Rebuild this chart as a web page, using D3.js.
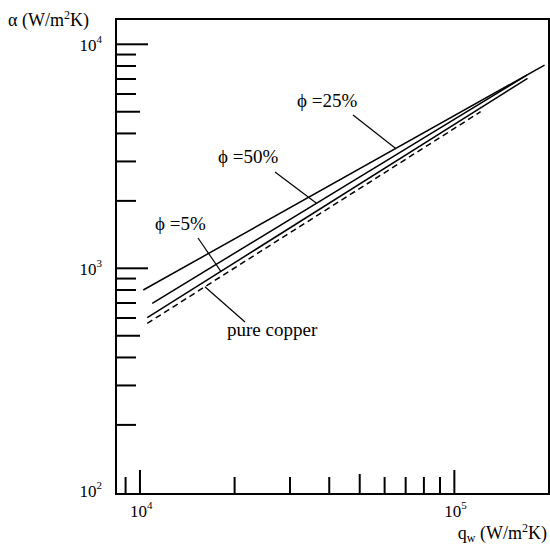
<!DOCTYPE html>
<html>
<head>
<meta charset="utf-8">
<script src="https://cdn.jsdelivr.net/npm/d3@7"></script>
<style>
  body { margin: 0; background: #fff; }
  text { font-family: "Liberation Serif", "Times New Roman", serif; fill: #000; }
</style>
</head>
<body>
<div id="chart"></div>
<script>
// heat flux q_w (W/m2K) at the two ends of each curve, and alpha there
var phi25_q = [10245, 193600], phi25_a = [800, 8080];
var phi50_q = [10940, 170100], phi50_a = [698, 7290];
var phi5_q = [10550, 170900], phi5_a = [602, 7050];
var copper_q = [10550, 121200], copper_a = [568, 5000];

var xMajor = [1e4, 1e5];
var xMinor = [9000, 20000, 30000, 40000, 60000, 70000, 80000, 90000];
var xMid = [50000];
var yMajor = [1e3, 1e4];
var yMinor = [200, 300, 400, 600, 700, 800, 900, 2000, 3000, 4000, 6000, 7000, 8000, 9000];
var yMid = [500, 5000];
var yLabelExp = [2, 3, 4];
var xLabelExp = [4, 5];

var width = 550, height = 548;
var margin = {top: 19, right: 1, bottom: 54, left: 116};

var svg = d3.select("#chart").append("svg")
    .attr("width", width)
    .attr("height", height);

var x = d3.scaleLog().domain([8390, 2e5]).range([margin.left, width - margin.right]);
var y = d3.scaleLog().domain([98.3, 12970]).range([height - margin.bottom, margin.top]);

var x0 = margin.left, x1 = width - margin.right;
var y0 = height - margin.bottom, y1 = margin.top;

// frame
svg.append("rect")
    .attr("x", x0).attr("y", y1)
    .attr("width", x1 - x0).attr("height", y0 - y1)
    .attr("fill", "none").attr("stroke", "#000").attr("stroke-width", 2);

// x ticks (pointing inward)
function xTicks(vals, len) {
  svg.selectAll(null).data(vals).enter().append("line")
      .attr("x1", function(d) { return x(d); })
      .attr("x2", function(d) { return x(d); })
      .attr("y1", y0).attr("y2", y0 - len)
      .attr("stroke", "#000").attr("stroke-width", 2);
}
xTicks(xMajor, 24); xTicks(xMid, 20); xTicks(xMinor, 17);

function yTicks(vals, len) {
  svg.selectAll(null).data(vals).enter().append("line")
      .attr("y1", function(d) { return y(d); })
      .attr("y2", function(d) { return y(d); })
      .attr("x1", x0).attr("x2", x0 + len)
      .attr("stroke", "#000").attr("stroke-width", 2);
}
yTicks(yMajor, 32); yTicks(yMid, 24); yTicks(yMinor, 20);

// y tick labels 10^n
yLabelExp.forEach(function(e) {
  var t = svg.append("text")
      .attr("x", 102).attr("y", Math.min(y(Math.pow(10, e)) + 7, y0 + 3))
      .attr("text-anchor", "end")
      .style("font-size", "17px");
  t.append("tspan").text("10");
  t.append("tspan").attr("dy", -8).style("font-size", "11px").text(e);
});

// x tick labels 10^n
xLabelExp.forEach(function(e) {
  var t = svg.append("text")
      .attr("x", x(Math.pow(10, e)) - 10).attr("y", y0 + 23)
      .style("font-size", "17px");
  t.append("tspan").text("10");
  t.append("tspan").attr("dy", -8).style("font-size", "11px").text(e);
});

// axis titles
var yt = svg.append("text").attr("x", 8).attr("y", 26).style("font-size", "18px");
yt.append("tspan").text("\u03b1 (W/m");
yt.append("tspan").attr("dy", -7).style("font-size", "12px").text("2");
yt.append("tspan").attr("dy", 7).text("K)");

var xt = svg.append("text").attr("x", 547).attr("y", 539)
    .attr("text-anchor", "end").style("font-size", "18px");
xt.append("tspan").text("q");
xt.append("tspan").attr("dy", 3).style("font-size", "12px").text("w");
xt.append("tspan").attr("dy", -3).text(" (W/m");
xt.append("tspan").attr("dy", -7).style("font-size", "12px").text("2");
xt.append("tspan").attr("dy", 7).text("K)");

// curves
var series = [
  {name: "\u03d5 =25%", q: phi25_q, a: phi25_a, dash: null},
  {name: "\u03d5 =50%", q: phi50_q, a: phi50_a, dash: null},
  {name: "\u03d5 =5%", q: phi5_q, a: phi5_a, dash: null},
  {name: "pure copper", q: copper_q, a: copper_a, dash: "6,4"}
];

var line = d3.line()
    .x(function(d) { return x(d[0]); })
    .y(function(d) { return y(d[1]); });

series.forEach(function(s) {
  svg.append("path")
      .datum(d3.zip(s.q, s.a))
      .attr("fill", "none")
      .attr("stroke", "#000")
      .attr("stroke-width", 1.5)
      .attr("stroke-dasharray", s.dash)
      .attr("d", line);
});

// alpha on a series at a given q (straight line in log-log)
function alphaAt(s, q) {
  var t = Math.log(q / s.q[0]) / Math.log(s.q[1] / s.q[0]);
  return Math.exp(Math.log(s.a[0]) + t * Math.log(s.a[1] / s.a[0]));
}

// labels with leader lines
var notes = [
  {s: series[0], q: 65100, tx: 297, ty: 107, lx: 353, ly: 115},
  {s: series[1], q: 36430, tx: 218, ty: 163, lx: 275, ly: 172},
  {s: series[2], q: 18090, tx: 155, ty: 230, lx: 198, ly: 238},
  {s: series[3], q: 16090, tx: 227, ty: 336, lx: 245, ly: 322}
];

notes.forEach(function(n) {
  svg.append("line")
      .attr("x1", n.lx).attr("y1", n.ly)
      .attr("x2", x(n.q)).attr("y2", y(alphaAt(n.s, n.q)))
      .attr("stroke", "#000").attr("stroke-width", 1.2);
  svg.append("text")
      .attr("x", n.tx).attr("y", n.ty)
      .style("font-size", "19px")
      .text(n.s.name);
});
</script>
</body>
</html>
